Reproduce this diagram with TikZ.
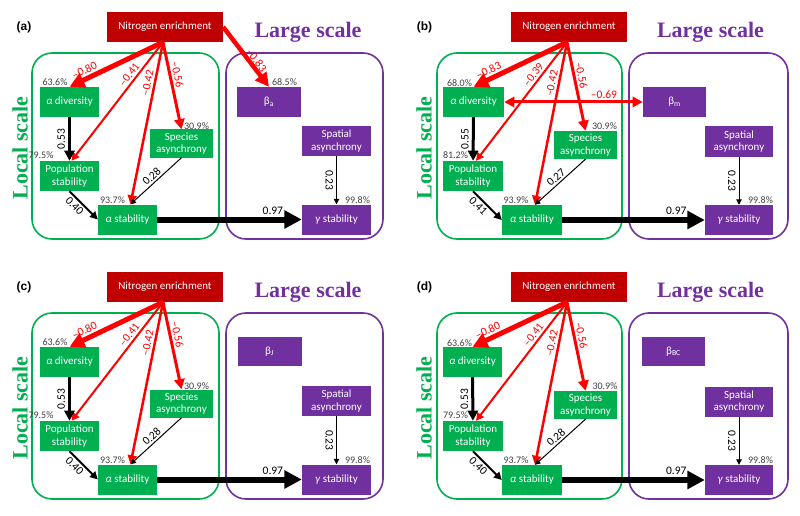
\documentclass[tikz,border=0pt]{standalone}
\usepackage{fontspec}
\setmainfont{Carlito}
\newfontfamily\titleserif{Liberation Serif}
\newfontfamily\tagsans{Liberation Sans}
\usetikzlibrary{arrows.meta}

\definecolor{nitrored}{HTML}{C00000}
\definecolor{localgreen}{HTML}{00B050}
\definecolor{largepurple}{HTML}{7030A0}
\definecolor{pctgray}{HTML}{404040}

\tikzset{
  varbox/.style={text=white, font=\fontsize{11}{12.5}\selectfont, align=center,
    inner sep=0pt, minimum height=30pt},
  nitrobox/.style={varbox, fill=nitrored, minimum width=116pt},
  localbox/.style={varbox, fill=localgreen},
  largebox/.style={varbox, fill=largepurple},
  scaleframe/.style={line width=1.6pt, rounded corners=20pt},
  scaletitle/.style={font=\titleserif\bfseries\fontsize{22}{25}\selectfont},
  paneltag/.style={font=\tagsans\bfseries\fontsize{12}{14}\selectfont},
  pct/.style={text=pctgray, font=\fontsize{10}{12}\selectfont, inner sep=0pt},
  coef/.style={font=\fontsize{11.5}{13}\selectfont, inner sep=2pt},
  rcoef/.style={coef, text=red},
  redarr/.style={draw=red, line width=#1, ->},
  blkarr/.style={draw=black, line width=#1, ->},
}

\begin{document}
\begin{tikzpicture}[x=1pt, y=-1pt, >={Triangle[length=3pt 2.4, width=3pt 2.4]}]
  \useasboundingbox (0,0) rectangle (800,516);

  \begin{scope}[name prefix=a-]
    \node[paneltag] (tag) at (24,27) {(a)};
    \draw[scaleframe, localgreen] (32,53) rectangle (219,239);
    \draw[scaleframe, largepurple] (226,53) rectangle (383,239);
    \node[scaletitle, text=largepurple] (large) at (308,32) {Large scale};
    \node[scaletitle, text=localgreen, rotate=90] (local) at (20,148) {Local scale};
    \node[nitrobox] (N) at (165,27) {Nitrogen enrichment};
    \node[localbox, minimum width=59pt] (dv) at (69.5,102) {\textit{α} diversity};
    \node[localbox, minimum width=59pt] (ps) at (69.5,176) {Population\\stability};
    \node[localbox, minimum width=63pt, minimum height=28pt] (sa) at (181.5,143.5) {Species\\asynchrony};
    \node[localbox, minimum width=59pt] (as) at (127.5,219.5) {\textit{α} stability};
    \node[largebox, minimum width=64pt] (beta) at (269,102) {β\textsubscript{a}};
    \node[largebox, minimum width=69pt] (spa) at (336.5,141) {Spatial\\asynchrony};
    \node[largebox, minimum width=69pt] (gs) at (336.5,219.5) {\textit{γ} stability};
    \node[pct] (dv-r2) at (55,82) {63.6\%};
    \node[pct] (ps-r2) at (41,155) {79.5\%};
    \node[pct] (sa-r2) at (196.5,126) {30.9\%};
    \node[pct] (as-r2) at (112.5,200) {93.7\%};
    \node[pct] (beta-r2) at (284.5,82) {68.5\%};
    \node[pct] (gs-r2) at (357.5,200) {99.8\%};
    \coordinate (Nout) at ([xshift=-2pt]N.south);
    \draw[redarr=5pt] (Nout) -- (dv.north) node[rcoef, pos=.8, sloped, above] {–0.80};
    \draw[redarr=2pt] (Nout) -- ([xshift=2pt]ps.north) node[rcoef, pos=.31, sloped, above] {–0.41};
    \draw[redarr=2.5pt] (Nout) -- ([xshift=3pt]as.north) node[rcoef, pos=.26, sloped, above] {–0.42};
    \draw[redarr=3pt] (Nout) -- (sa.north) node[rcoef, pos=.39, sloped, above] {–0.56};
    \draw[redarr=4.5pt] (N.east) -- (beta.north) node[rcoef, pos=.62, sloped, above, inner sep=0pt] {–0.83};
    \draw[blkarr=3pt] (dv) -- (ps) node[coef, midway, anchor=south, rotate=90, inner sep=3pt] {0.53};
    \draw[blkarr=2pt] (ps.south) -- (as.west) node[coef, pos=.35, sloped, below] {0.40};
    \draw[blkarr=1pt] (sa.south) -- ([xshift=3pt]as.north) node[coef, midway, sloped, above] {0.28};
    \draw[blkarr=6pt] (as) -- (gs) node[coef, pos=.8, above] {0.97};
    \draw[blkarr=1pt] (spa) -- (gs) node[coef, midway, anchor=north, rotate=-90, inner sep=3pt] {0.23};
  \end{scope}

  \begin{scope}[shift={(404,0)}, name prefix=b-]
    \node[paneltag] (tag) at (20.5,27) {(b)};
    \draw[scaleframe, localgreen] (33,53) rectangle (218,239);
    \draw[scaleframe, largepurple] (225,53) rectangle (384,239);
    \node[scaletitle, text=largepurple] (large) at (306.5,32) {Large scale};
    \node[scaletitle, text=localgreen, rotate=90] (local) at (20,148) {Local scale};
    \node[nitrobox] (N) at (165,27) {Nitrogen enrichment};
    \node[localbox, minimum width=61pt] (dv) at (69.5,102) {\textit{α} diversity};
    \node[localbox, minimum width=60pt] (ps) at (69,176) {Population\\stability};
    \node[localbox, minimum width=63pt, minimum height=28pt] (sa) at (181.5,145) {Species\\asynchrony};
    \node[localbox, minimum width=60pt] (as) at (128,220) {\textit{α} stability};
    \node[largebox, minimum width=63pt] (beta) at (270.5,102) {β\textsubscript{m}};
    \node[largebox, minimum width=68pt] (spa) at (335,141.5) {Spatial\\asynchrony};
    \node[largebox, minimum width=68pt] (gs) at (335,220) {\textit{γ} stability};
    \node[pct] (dv-r2) at (55.5,83) {68.0\%};
    \node[pct] (ps-r2) at (51.5,155) {81.2\%};
    \node[pct] (sa-r2) at (200.5,126) {30.9\%};
    \node[pct] (as-r2) at (112,200) {93.9\%};
    \node[pct] (gs-r2) at (356.5,200) {99.8\%};
    \coordinate (Nout) at ([xshift=-2pt]N.south);
    \draw[redarr=5pt] (Nout) -- (dv.north) node[rcoef, pos=.8, sloped, above] {–0.83};
    \draw[redarr=2pt] (Nout) -- ([xshift=3pt]ps.north) node[rcoef, pos=.31, sloped, above] {–0.39};
    \draw[redarr=2.5pt] (Nout) -- ([xshift=3pt]as.north) node[rcoef, pos=.26, sloped, above] {–0.42};
    \draw[redarr=3pt] (Nout) -- (sa.north) node[rcoef, pos=.39, sloped, above] {–0.56};
    \draw[redarr=3pt, <->] (dv) -- (beta) node[rcoef, pos=.72, above] {–0.69};
    \draw[blkarr=3pt] (dv) -- (ps) node[coef, midway, anchor=south, rotate=90, inner sep=3pt] {0.55};
    \draw[blkarr=2pt] (ps.south) -- (as.west) node[coef, pos=.35, sloped, below] {0.41};
    \draw[blkarr=1pt] (sa.south) -- ([xshift=3pt]as.north) node[coef, midway, sloped, above] {0.27};
    \draw[blkarr=6pt] (as) -- (gs) node[coef, pos=.8, above] {0.97};
    \draw[blkarr=1pt] (spa) -- (gs) node[coef, midway, anchor=north, rotate=-90, inner sep=3pt] {0.23};
  \end{scope}

  \begin{scope}[shift={(0,260)}, name prefix=c-]
    \node[paneltag] (tag) at (24,27) {(c)};
    \draw[scaleframe, localgreen] (32,53) rectangle (219,239);
    \draw[scaleframe, largepurple] (226,53) rectangle (383,239);
    \node[scaletitle, text=largepurple] (large) at (308,32) {Large scale};
    \node[scaletitle, text=localgreen, rotate=90] (local) at (20,148) {Local scale};
    \node[nitrobox] (N) at (165,27) {Nitrogen enrichment};
    \node[localbox, minimum width=59pt] (dv) at (69.5,102) {\textit{α} diversity};
    \node[localbox, minimum width=59pt] (ps) at (69.5,176) {Population\\stability};
    \node[localbox, minimum width=63pt, minimum height=28pt] (sa) at (181.5,143.5) {Species\\asynchrony};
    \node[localbox, minimum width=59pt] (as) at (127.5,219.5) {\textit{α} stability};
    \node[largebox, minimum width=64pt, minimum height=29pt] (beta) at (269.5,91.5) {β\textsubscript{J}};
    \node[largebox, minimum width=69pt] (spa) at (336.5,141) {Spatial\\asynchrony};
    \node[largebox, minimum width=69pt] (gs) at (336.5,219.5) {\textit{γ} stability};
    \node[pct] (dv-r2) at (55,82) {63.6\%};
    \node[pct] (ps-r2) at (41,155) {79.5\%};
    \node[pct] (sa-r2) at (196.5,126) {30.9\%};
    \node[pct] (as-r2) at (112.5,200) {93.7\%};
    \node[pct] (gs-r2) at (357.5,200) {99.8\%};
    \coordinate (Nout) at ([xshift=-2pt]N.south);
    \draw[redarr=5pt] (Nout) -- (dv.north) node[rcoef, pos=.8, sloped, above] {–0.80};
    \draw[redarr=2pt] (Nout) -- ([xshift=2pt]ps.north) node[rcoef, pos=.31, sloped, above] {–0.41};
    \draw[redarr=2.5pt] (Nout) -- ([xshift=3pt]as.north) node[rcoef, pos=.26, sloped, above] {–0.42};
    \draw[redarr=3pt] (Nout) -- (sa.north) node[rcoef, pos=.39, sloped, above] {–0.56};
    \draw[blkarr=3pt] (dv) -- (ps) node[coef, midway, anchor=south, rotate=90, inner sep=3pt] {0.53};
    \draw[blkarr=2pt] (ps.south) -- (as.west) node[coef, pos=.35, sloped, below] {0.40};
    \draw[blkarr=1pt] (sa.south) -- ([xshift=3pt]as.north) node[coef, midway, sloped, above] {0.28};
    \draw[blkarr=6pt] (as) -- (gs) node[coef, pos=.8, above] {0.97};
    \draw[blkarr=1pt] (spa) -- (gs) node[coef, midway, anchor=north, rotate=-90, inner sep=3pt] {0.23};
  \end{scope}

  \begin{scope}[shift={(404,260)}, name prefix=d-]
    \node[paneltag] (tag) at (20.5,27) {(d)};
    \draw[scaleframe, localgreen] (33,53) rectangle (218,239);
    \draw[scaleframe, largepurple] (225,53) rectangle (384,239);
    \node[scaletitle, text=largepurple] (large) at (306.5,32) {Large scale};
    \node[scaletitle, text=localgreen, rotate=90] (local) at (20,148) {Local scale};
    \node[nitrobox] (N) at (165,27) {Nitrogen enrichment};
    \node[localbox, minimum width=59pt] (dv) at (68.5,102) {\textit{α} diversity};
    \node[localbox, minimum width=60pt] (ps) at (69,176) {Population\\stability};
    \node[localbox, minimum width=63pt, minimum height=28pt] (sa) at (181.5,145) {Species\\asynchrony};
    \node[localbox, minimum width=60pt] (as) at (128,220) {\textit{α} stability};
    \node[largebox, minimum width=63pt, minimum height=29pt] (beta) at (269.5,91.5) {β\textsubscript{BC}};
    \node[largebox, minimum width=68pt] (spa) at (335,141.5) {Spatial\\asynchrony};
    \node[largebox, minimum width=68pt] (gs) at (335,220) {\textit{γ} stability};
    \node[pct] (dv-r2) at (55.5,83) {63.6\%};
    \node[pct] (ps-r2) at (51.5,155) {79.5\%};
    \node[pct] (sa-r2) at (201,126) {30.9\%};
    \node[pct] (as-r2) at (112,200) {93.7\%};
    \node[pct] (gs-r2) at (356.5,200) {99.8\%};
    \coordinate (Nout) at ([xshift=-2pt]N.south);
    \draw[redarr=5pt] (Nout) -- (dv.north) node[rcoef, pos=.8, sloped, above] {–0.80};
    \draw[redarr=2pt] (Nout) -- ([xshift=3pt]ps.north) node[rcoef, pos=.31, sloped, above] {–0.41};
    \draw[redarr=2.5pt] (Nout) -- ([xshift=3pt]as.north) node[rcoef, pos=.26, sloped, above] {–0.42};
    \draw[redarr=3pt] (Nout) -- (sa.north) node[rcoef, pos=.39, sloped, above] {–0.56};
    \draw[blkarr=3pt] (dv) -- (ps) node[coef, midway, anchor=south, rotate=90, inner sep=3pt] {0.53};
    \draw[blkarr=2pt] (ps.south) -- (as.west) node[coef, pos=.35, sloped, below] {0.40};
    \draw[blkarr=1pt] (sa.south) -- ([xshift=3pt]as.north) node[coef, midway, sloped, above] {0.28};
    \draw[blkarr=6pt] (as) -- (gs) node[coef, pos=.8, above] {0.97};
    \draw[blkarr=1pt] (spa) -- (gs) node[coef, midway, anchor=north, rotate=-90, inner sep=3pt] {0.23};
  \end{scope}
\end{tikzpicture}
\end{document}
